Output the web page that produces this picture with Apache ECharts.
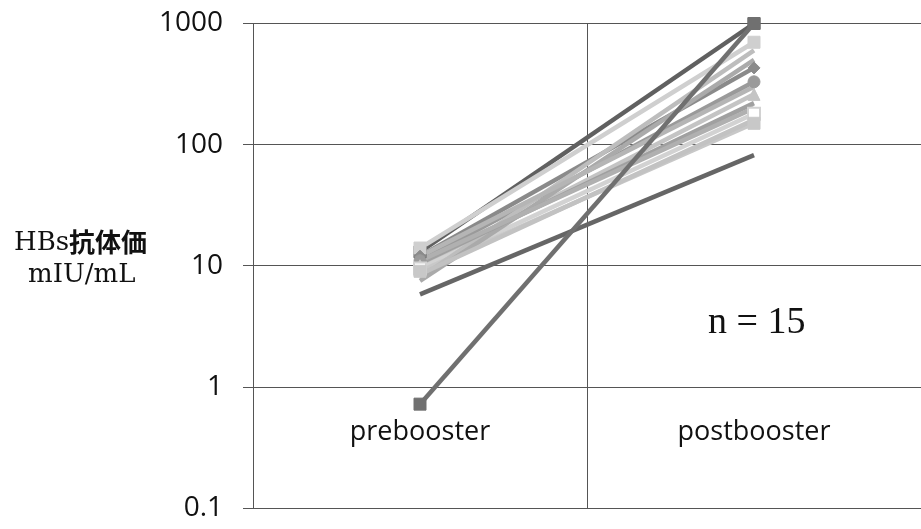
<!DOCTYPE html>
<html><head><meta charset="utf-8">
<script src="https://cdn.jsdelivr.net/npm/echarts@6/dist/echarts.min.js"></script>
<style>html,body{margin:0;padding:0;background:#fff}#c{width:921px;height:529px}</style>
</head><body><div id="c"></div>
<script>
const categories = ['prebooster', 'postbooster'];
const yTicks = [0.1, 1, 10, 100, 1000];
// each subject: [prebooster, postbooster]
const preValues  = [13, 0.72, 14, 12, 11, 10, 9.5, 9, 8, 7.5, 12, 10.5, 8.5, 11, 5.8];
const postValues = [1000, 1000, 700, 430, 330, 260, 180, 150, 600, 500, 300, 220, 160, 200, 82];
const seriesColors = ['#606060', '#707070', '#cfcfcf', '#8a8a8a', '#9a9a9a', '#c4c4c4', '#d2d2d2', '#c8c8c8', '#bdbdbd', '#aaaaaa', '#b5b5b5', '#a0a0a0', '#c2c2c2', '#b0b0b0', '#666666'];
const seriesSymbols = ['rect', 'rect', 'rect', 'diamond', 'circle', 'triangle', 'emptyRect', 'rect', 'none', 'none', 'none', 'none', 'none', 'none', 'none'];

const chart = echarts.init(document.getElementById('c'));
const series = preValues.map((p, i) => ({
  type: 'line',
  name: 'S' + (i + 1),
  data: [p, postValues[i]],
  symbol: seriesSymbols[i],
  symbolSize: 12,
  showSymbol: seriesSymbols[i] !== 'none',
  lineStyle: { width: 4.5, color: seriesColors[i] },
  itemStyle: { color: seriesColors[i], borderColor: seriesColors[i] },
  z: 2 + (i === 1 ? 5 : 0)
}));

chart.setOption({
  animation: false,
  grid: { left: 253, right: -8, top: 23.5, bottom: 21, containLabel: false },
  xAxis: {
    type: 'category',
    data: categories,
    boundaryGap: true,
    axisLine: { show: false },
    axisTick: { show: false },
    axisLabel: { margin: -76, verticalAlign: 'middle', fontFamily: 'Open Sans', fontSize: 27, color: '#111' },
    splitLine: { show: true, lineStyle: { color: '#555', width: 1 } }
  },
  yAxis: {
    type: 'log',
    logBase: 10,
    min: 0.1,
    max: 1000,
    axisLine: { show: true, lineStyle: { color: '#555', width: 1 } },
    axisTick: { show: true, length: 10, lineStyle: { color: '#555' } },
    axisLabel: { margin: 30, fontFamily: 'Open Sans', fontSize: 28, color: '#111',
      formatter: v => { const t = yTicks.find(k => Math.abs(k - v) / k < 1e-6); return t === undefined ? '' : String(t); } },
    splitLine: { show: true, lineStyle: { color: '#555', width: 1 } }
  },
  graphic: [
    { type: 'text', left: 14, top: 230, style: { text: 'HBs', font: '26px "DejaVu Serif", serif', fill: '#111' } },
    { type: 'text', left: 69, top: 229, style: { text: '抗体価', font: 'bold 26px "Noto Sans CJK JP", sans-serif', fill: '#111' } },
    { type: 'text', left: 28, top: 262, style: { text: 'mIU/mL', font: '26px "DejaVu Serif", serif', fill: '#111' } },
    { type: 'text', left: 708, top: 304, style: { text: 'n = 15', font: '38px "Liberation Serif", serif', fill: '#111' } }
  ],
  series: series
});
</script></body></html>
